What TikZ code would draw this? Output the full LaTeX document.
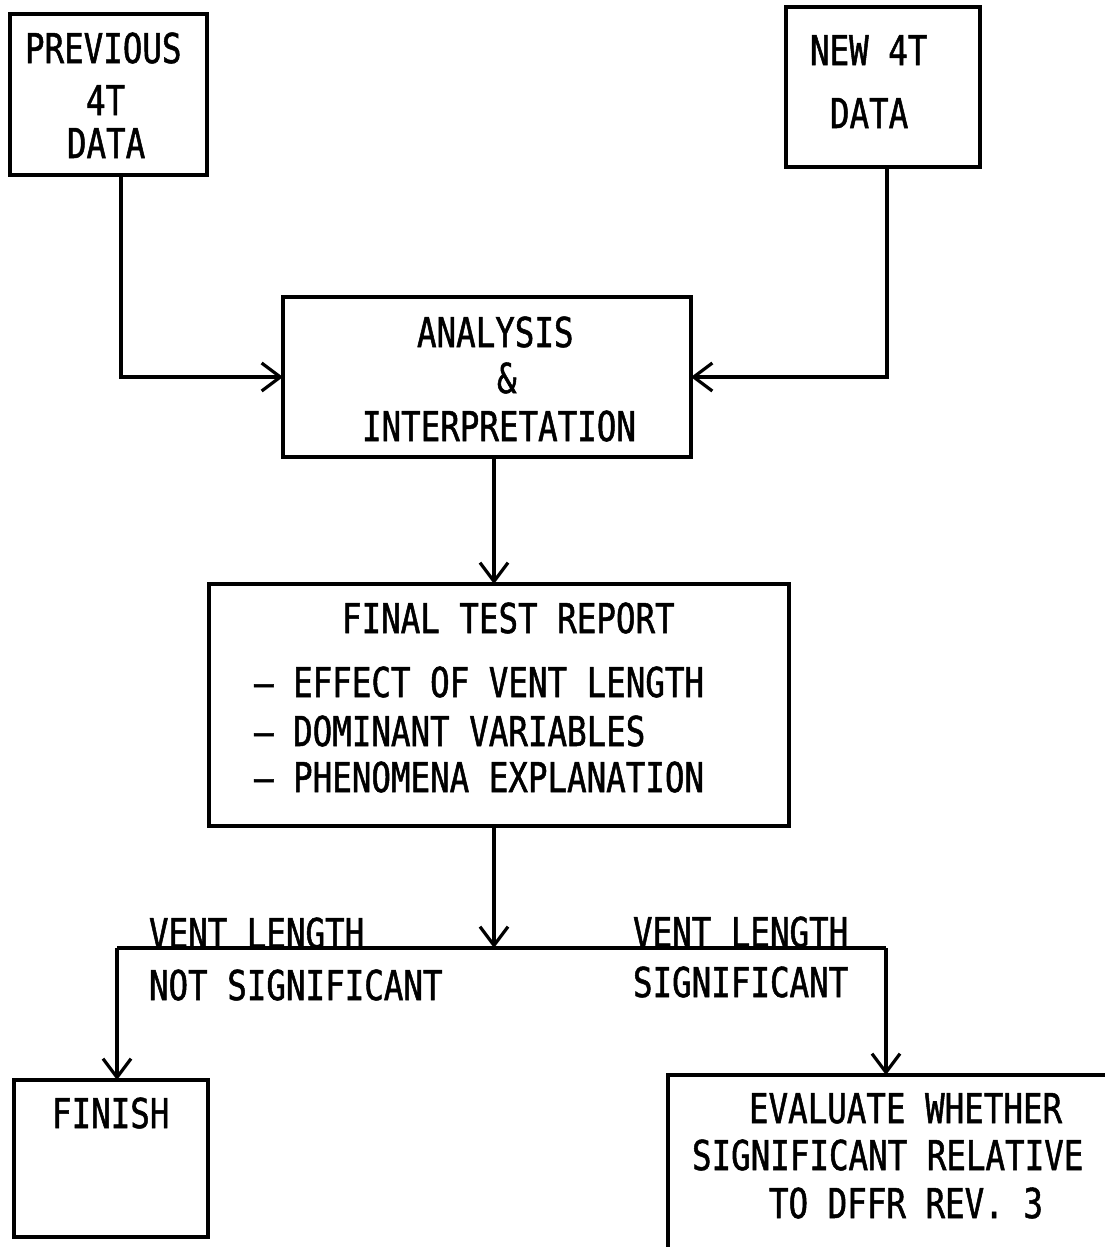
\documentclass[tikz,border=0pt]{standalone}
\usepackage{fontspec}
\usetikzlibrary{arrows.meta}
\newfontfamily\twfont[FakeStretch=0.79, FakeBold=1.2]{DejaVu Sans Mono}
\tikzset{
  box/.style={draw, line width=2.4pt, inner sep=0pt, outer sep=0pt, rectangle},
  txt/.style={font=\twfont\fontsize{30.86pt}{36pt}\selectfont, inner sep=0pt, outer sep=0pt, anchor=base west},
  conn/.style={line width=2.4pt},
  arr/.style={conn, -{Straight Barb[length=14pt, width=21pt, line width=2.4pt]}}
}
\begin{document}
\begin{tikzpicture}[x=0.75pt, y=-0.75pt]
\useasboundingbox (0,0) rectangle (1105,1247);
\clip (0,0) rectangle (1105,1247);
\fill[white] (0,0) rectangle (1105,1247);

% boxes
\node[box, minimum width=197*0.75pt, minimum height=161*0.75pt] (prev) at (108.5,94.5) {};
\node[box, minimum width=194*0.75pt, minimum height=160*0.75pt] (new) at (883,87) {};
\node[box, minimum width=408*0.75pt, minimum height=160*0.75pt] (ana) at (487,377) {};
\node[box, minimum width=580*0.75pt, minimum height=242*0.75pt] (final) at (499,705) {};
\node[box, minimum width=194*0.75pt, minimum height=157*0.75pt] (finish) at (111,1158.5) {};
\node[box, anchor=north west, minimum width=520*0.75pt, minimum height=300*0.75pt] (eval) at (668,1075) {};

% texts
\node[txt] (p1) at (25,63) {PREVIOUS};
\node[txt] (p2) at (86,115) {4T};
\node[txt] (p3) at (67,158) {DATA};

\node[txt] (n1) at (810,65) {NEW 4T};
\node[txt] (n2) at (830,128) {DATA};

\node[txt] (a1) at (417,347) {ANALYSIS};
\node[txt] (a2) at (497,393) {\&};
\node[txt] (a3) at (362,441) {INTERPRETATION};

\node[txt] (f0) at (342,633) {FINAL TEST REPORT};
\node[txt] (f1) at (254,697) {– EFFECT OF VENT LENGTH};
\node[txt] (f2) at (254,746) {– DOMINANT VARIABLES};
\node[txt] (f3) at (254,792) {– PHENOMENA EXPLANATION};

\node[txt] (fi) at (52,1128) {FINISH};

\node[txt] (e1) at (749,1123) {EVALUATE WHETHER};
\node[txt] (e2) at (692,1170) {SIGNIFICANT RELATIVE};
\node[txt] (e3) at (769,1218) {TO DFFR REV. 3};

\node[txt] (l1) at (149,948) {VENT LENGTH};
\node[txt] (l2) at (149,1000) {NOT SIGNIFICANT};
\node[txt] (r1) at (633,947) {VENT LENGTH};
\node[txt] (r2) at (633,997) {SIGNIFICANT};

% connectors
\coordinate (j) at (494,948);
\coordinate (jl) at (117,948);
\coordinate (jr) at (886,948);
\draw[arr] (prev.south -| 121,0) |- (ana.west);
\draw[arr] (new.south -| 887,0) |- (ana.east);
\draw[arr] (ana.south -| j) -- (final.north -| j);
\draw[arr] (final.south -| j) -- (j);
\draw[conn] (jl) -- (jr);
\draw[arr] (jl) -- (finish.north -| jl);
\draw[arr] (jr) -- (eval.north -| jr);
\end{tikzpicture}
\end{document}
